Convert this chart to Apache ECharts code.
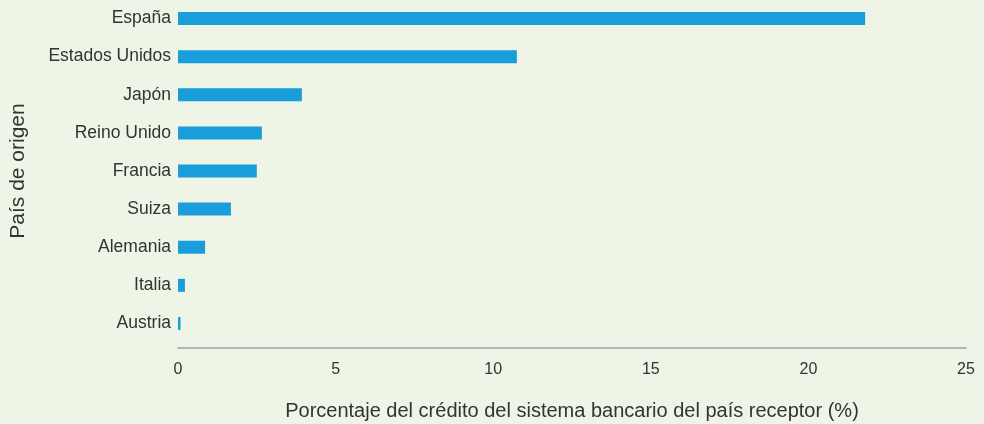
<!DOCTYPE html>
<html>
<head>
<meta charset="utf-8">
<script src="https://cdn.jsdelivr.net/npm/echarts@6/dist/echarts.min.js"></script>
<style>
  html, body { margin: 0; padding: 0; background: #eef4e6; }
  #chart { width: 984px; height: 424px; }
</style>
</head>
<body>
<div id="chart"></div>
<script>
// países de origen (de abajo hacia arriba)
const paises = ["Austria", "Italia", "Alemania", "Suiza", "Francia", "Reino Unido", "Japón", "Estados Unidos", "España"];
// porcentaje del crédito del sistema bancario del país receptor
const valores = [0.08, 0.22, 0.86, 1.68, 2.5, 2.66, 3.93, 10.75, 21.8];
const ticksX = [0, 5, 10, 15, 20, 25];

const chart = echarts.init(document.getElementById("chart"));
const fuente = "'Liberation Sans', Arial, sans-serif";

chart.setOption({
  backgroundColor: "#eef4e6",
  animation: false,
  grid: { left: 178, right: 18, top: -0.5, bottom: 81.5, outerBoundsMode: "none", containLabel: false },
  xAxis: {
    type: "value",
    min: ticksX[0],
    max: ticksX[ticksX.length - 1],
    interval: 5,
    offset: 5,
    name: "Porcentaje del crédito del sistema bancario del país receptor (%)",
    nameLocation: "middle",
    nameGap: 54,
    nameTextStyle: { color: "#333", fontSize: 20, fontFamily: fuente },
    axisLine: { show: true, lineStyle: { color: "#9aa4ab", width: 1.5 } },
    axisTick: { show: false },
    splitLine: { show: false },
    axisLabel: { color: "#333", fontSize: 16, fontFamily: fuente, margin: 14 }
  },
  yAxis: {
    type: "category",
    data: paises,
    name: "País de origen",
    nameLocation: "middle",
    nameGap: 149,
    nameTextStyle: { color: "#333", fontSize: 21, fontFamily: fuente },
    axisLine: { show: false },
    axisTick: { show: false },
    axisLabel: { color: "#333", fontSize: 17.5, fontFamily: fuente, margin: 7 }
  },
  series: [{
    type: "bar",
    data: valores,
    barWidth: 13,
    itemStyle: { color: "#1a9ddb" }
  }]
});
</script>
</body>
</html>
